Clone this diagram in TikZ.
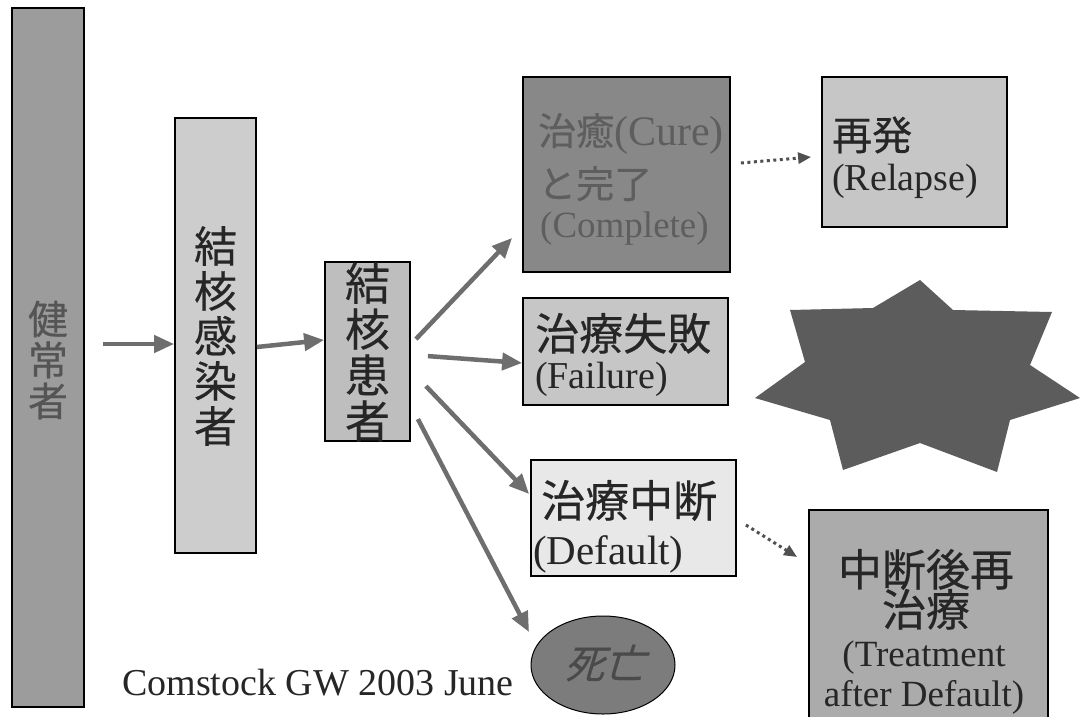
\documentclass[tikz,border=0pt]{standalone}
\usepackage{fontspec}
\setmainfont{Liberation Serif}
\newfontfamily\cjk[FakeBold=0.4]{Noto Sans CJK JP}
\newfontfamily\cjkslant[FakeSlant=0.3,FakeBold=0.4]{Noto Sans CJK JP}
\usetikzlibrary{arrows.meta,shapes.geometric}
\definecolor{barfill}{HTML}{9C9C9C}
\definecolor{bartext}{HTML}{555555}
\definecolor{lightfill}{HTML}{CDCDCD}
\definecolor{midfill}{HTML}{BEBEBE}
\definecolor{curefill}{HTML}{888888}
\definecolor{curetext}{HTML}{5E5E5E}
\definecolor{failfill}{HTML}{C6C6C6}
\definecolor{deffill}{HTML}{E8E8E8}
\definecolor{treatfill}{HTML}{ABABAB}
\definecolor{deathfill}{HTML}{7C7C7C}
\definecolor{deathtext}{HTML}{4A4A4A}
\definecolor{starfill}{HTML}{5C5C5C}
\definecolor{arrgray}{HTML}{6E6E6E}
\definecolor{dotgray}{HTML}{505050}
\definecolor{inktext}{HTML}{262626}
\begin{document}
\begin{tikzpicture}[x=1pt,y=-1pt,
  box/.style={draw=black, line width=1.8pt, inner sep=0pt},
  arr/.style={draw=arrgray, line width=4.5pt, -{Triangle[length=20pt,width=17pt]}},
  dotarr/.style={draw=dotgray, line width=3pt, dash pattern=on 3pt off 3.5pt, -{Triangle[length=13pt,width=11pt]}},
  txt/.style={inner sep=0pt, anchor=base west, text=inktext},
  vtxt/.style={inner sep=0pt, align=center}
]
\useasboundingbox (0,0) rectangle (1081,717);
\fill[white] (0,0) rectangle (1081,717);

% boxes
\node[box, fill=barfill, minimum width=72pt, minimum height=699pt] (kenjo) at (48,357.5) {};
\node[vtxt, text=bartext, font=\cjk\fontsize{40}{41}\selectfont] (kenjoT) at (48,360) {健\\常\\者};

\node[box, fill=lightfill, minimum width=81pt, minimum height=435pt] (kansen) at (215.5,335.5) {};
\node[vtxt, text=inktext, font=\cjk\fontsize{43}{45}\selectfont] (kansenT) at (215.5,336) {結\\核\\感\\染\\者};

\node[box, fill=midfill, minimum width=85pt, minimum height=179pt] (kanja) at (367.5,351.5) {};
\node[vtxt, text=inktext, font=\cjk\fontsize{45}{46}\selectfont] (kanjaT) at (367.5,352) {結\\核\\患\\者};

\node[box, fill=curefill, minimum width=207pt, minimum height=195pt] (cure) at (626.5,174.5) {};
\node[txt, text=curetext, font=\fontsize{38}{38}\selectfont] (cureT1) at (538,145) {{\cjk 治癒}{\fontsize{42}{42}\selectfont(Cure)}};
\node[txt, text=curetext, font=\cjk\fontsize{38}{38}\selectfont] (cureT2) at (538,198) {と完了};
\node[txt, text=curetext, font=\fontsize{37}{37}\selectfont] (cureT3) at (540,237) {(Complete)};

\node[box, fill=failfill, minimum width=185pt, minimum height=150pt] (relapse) at (914.5,152) {};
\node[txt, font=\cjk\fontsize{40}{40}\selectfont] (relT1) at (832,150) {再発};
\node[txt, font=\fontsize{38}{38}\selectfont] (relT2) at (832,190) {(Relapse)};

\node[box, fill=failfill, minimum width=205pt, minimum height=107pt] (failure) at (625.5,351.5) {};
\node[txt, font=\cjk\fontsize{44}{44}\selectfont] (failT1) at (535,350) {治療失敗};
\node[txt, font=\fontsize{38}{38}\selectfont] (failT2) at (535,388) {(Failure)};

\node[box, fill=deffill, minimum width=205pt, minimum height=116pt] (default) at (633.5,518) {};
\node[txt, font=\cjk\fontsize{44}{44}\selectfont] (defT1) at (541,517) {治療中断};
\node[txt, font=\fontsize{41}{41}\selectfont] (defT2) at (533,564) {(Default)};

\node[box, fill=treatfill, minimum width=239pt, minimum height=215pt] (treat) at (928.5,617.5) {};
\node[txt, anchor=base, font=\cjk\fontsize{44}{44}\selectfont] (trT1) at (926,586) {中断後再};
\node[txt, anchor=base, font=\cjk\fontsize{44}{44}\selectfont] (trT2) at (926,626) {治療};
\node[txt, anchor=base, font=\fontsize{37}{37}\selectfont] (trT3) at (924,666) {(Treatment};
\node[txt, anchor=base, font=\fontsize{37}{37}\selectfont] (trT4) at (924,706) {after Default)};

\node[draw=black, line width=1pt, fill=deathfill, ellipse, minimum width=144pt, minimum height=98pt, inner sep=0pt] (death) at (603,665) {};
\node[inner sep=0pt, text=deathtext, font=\cjkslant\fontsize{40}{40}\selectfont] (deathT) at (604,663) {死亡};

% star
\fill[starfill] (920,280) -- (953,310) -- (1052,312) -- (1030,365) -- (1080,398) -- (1010,420) -- (997,472) -- (920,443) -- (843,470) -- (830,420) -- (755,398) -- (805,362) -- (790,310) -- (873,308) -- cycle;

% credit
\node[txt, font=\fontsize{38}{38}\selectfont] (credit) at (122,695) {Comstock GW 2003 June};

% arrows
\coordinate (start0) at (103,344);
\draw[arr] (start0) -- (kansen.west |- start0);
\draw[arr] ([yshift=-11.5pt]kansen.east) -- ([yshift=11.5pt]kanja.west);
\draw[arr] ([xshift=5pt,yshift=-78pt]kanja.north east) -- ([xshift=-10pt,yshift=35pt]cure.south west);
\draw[arr] ([xshift=17pt,yshift=-95pt]kanja.north east) -- ([yshift=-11.5pt]failure.west);
\draw[arr] ([xshift=15pt,yshift=-125pt]kanja.north east) -- ([xshift=-1pt,yshift=24pt]default.west);
\draw[arr] ([xshift=7pt,yshift=-158pt]kanja.north east) -- ([xshift=-74pt,yshift=33pt]death.center);

\draw[dotarr] ([xshift=10pt,yshift=11.5pt]cure.east) -- ([xshift=-10pt,yshift=-5pt]relapse.west);
\draw[dotarr] ([xshift=9pt,yshift=-7pt]default.east) -- ([xshift=-11pt,yshift=60.5pt]treat.west);
\end{tikzpicture}
\end{document}
